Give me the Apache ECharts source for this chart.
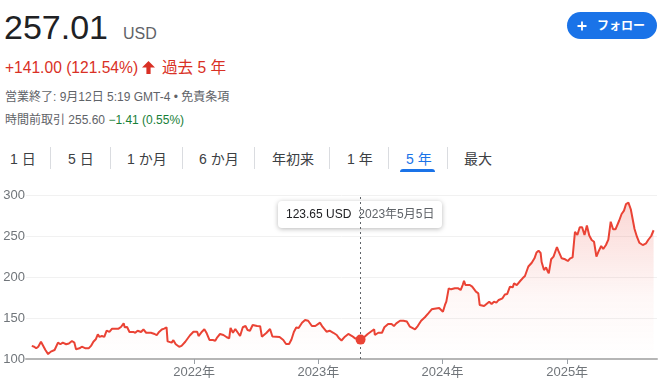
<!DOCTYPE html>
<html><head><meta charset="utf-8">
<script src="https://cdn.jsdelivr.net/npm/echarts@6/dist/echarts.min.js"></script>
<style>
body{margin:0;width:669px;height:391px;overflow:hidden;background:#fff;font-family:"Liberation Sans",Arial,"Noto Sans CJK JP",sans-serif;position:relative}
.a{position:absolute;white-space:nowrap;line-height:1}
.tab{position:absolute;top:152px;font-size:14px;line-height:1;color:#3c4043;white-space:nowrap}
.sep{position:absolute;top:147px;width:1px;height:22px;background:#dadce0}
#chart{position:absolute;left:0;top:180px;width:669px;height:211px}
</style></head><body>
<div class="a" style="left:4px;top:10px;font-size:34px;color:#202124">257.01</div>
<div class="a" style="left:123px;top:25.5px;font-size:16px;color:#5f6368">USD</div>
<div class="a" style="left:5px;top:60px;font-size:15.6px;color:#d93025">+141.00 (121.54%)</div>
<svg style="position:absolute;left:141px;top:60px" width="15" height="15" viewBox="0 0 15 15"><path d="M7.5 1 L14 7.6 L9.6 7.6 L9.6 14 L5.4 14 L5.4 7.6 L1 7.6 Z" fill="#d93025"/></svg>
<div class="a" style="left:162px;top:60px;font-size:15.6px;color:#d93025">過去 5 年</div>
<div class="a" style="left:5px;top:91px;font-size:12px;color:#5f6368">営業終了: 9月12日 5:19 GMT-4 • 免責条項</div>
<div class="a" style="left:5px;top:113.5px;font-size:12px;color:#5f6368">時間前取引 255.60 <span style="color:#188038">−1.41 (0.55%)</span></div>
<div style="position:absolute;left:567px;top:12px;width:90px;height:27px;border-radius:14px;background:#1a73e8"></div>
<svg style="position:absolute;left:577px;top:21px" width="10" height="10" viewBox="0 0 10 10"><path d="M5 0.5 V9.5 M0.5 5 H9.5" stroke="#fff" stroke-width="1.8"/></svg>
<div class="a" style="left:597px;top:20px;font-size:12px;font-weight:bold;color:#fff">フォロー</div>

<div class="tab" style="left:10px">1 日</div>
<div class="sep" style="left:50px"></div>
<div class="tab" style="left:68px">5 日</div>
<div class="sep" style="left:110px"></div>
<div class="tab" style="left:127px">1 か月</div>
<div class="sep" style="left:182px"></div>
<div class="tab" style="left:199px">6 か月</div>
<div class="sep" style="left:254px"></div>
<div class="tab" style="left:272px">年初来</div>
<div class="sep" style="left:329px"></div>
<div class="tab" style="left:347px">1 年</div>
<div class="sep" style="left:388px"></div>
<div class="tab" style="left:406px;color:#1a73e8">5 年</div>
<div style="position:absolute;left:400px;top:169px;width:35px;height:3px;background:#1a73e8;border-radius:3px 3px 0 0"></div>
<div class="sep" style="left:447px"></div>
<div class="tab" style="left:464px">最大</div>

<div id="chart"></div>
<script>
const dates = [
"2020-09-11","2020-09-18","2020-09-24","2020-09-30","2020-10-08","2020-10-13","2020-10-21","2020-10-29","2020-11-06","2020-11-17","2020-11-20","2020-11-27","2020-12-04","2020-12-11","2020-12-21","2020-12-29",
"2021-01-07","2021-01-14","2021-01-19","2021-01-29","2021-02-05","2021-02-16","2021-02-25","2021-03-04","2021-03-11","2021-03-18","2021-03-24","2021-03-29","2021-04-05","2021-04-12","2021-04-19","2021-04-27","2021-05-05","2021-05-14","2021-05-24","2021-05-31","2021-06-08","2021-06-11","2021-06-18","2021-06-25","2021-07-06","2021-07-12","2021-07-19","2021-07-29","2021-08-05","2021-08-13","2021-08-27","2021-09-07","2021-09-13","2021-09-20","2021-09-28","2021-10-05","2021-10-12","2021-10-15","2021-10-27","2021-11-01","2021-11-08","2021-11-18","2021-11-25","2021-12-06","2021-12-14","2021-12-20","2021-12-30",
"2022-01-10","2022-01-14","2022-01-24","2022-01-31","2022-02-07","2022-02-15","2022-02-25","2022-03-04","2022-03-10","2022-03-18","2022-03-28","2022-04-07","2022-04-14","2022-04-18","2022-04-25","2022-05-02","2022-05-09","2022-05-16","2022-05-24","2022-06-01","2022-06-07","2022-06-14","2022-06-22","2022-07-05","2022-07-14","2022-07-19","2022-08-01","2022-08-12","2022-08-19","2022-08-30","2022-09-09","2022-09-20","2022-09-28","2022-10-07","2022-10-14","2022-10-21","2022-10-28","2022-11-04","2022-11-14","2022-11-23","2022-12-02","2022-12-13","2022-12-23",
"2023-01-06","2023-01-13","2023-01-25","2023-02-03","2023-02-14","2023-02-24","2023-03-03","2023-03-10","2023-03-20","2023-03-30","2023-04-10","2023-04-19","2023-05-05","2023-05-12","2023-05-26","2023-06-08","2023-06-14","2023-06-16","2023-06-26","2023-07-07","2023-07-14","2023-07-25","2023-08-04","2023-08-11","2023-08-18","2023-08-29","2023-09-08","2023-09-18","2023-09-27","2023-10-02","2023-10-12","2023-10-20","2023-10-30","2023-11-10","2023-11-20","2023-11-30","2023-12-08","2023-12-22",
"2024-01-02","2024-01-08","2024-01-12","2024-01-19","2024-01-26","2024-02-06","2024-02-16","2024-02-23","2024-02-29","2024-03-04","2024-03-08","2024-03-21","2024-03-28","2024-04-08","2024-04-15","2024-04-19","2024-05-02","2024-05-09","2024-05-17","2024-05-24","2024-05-31","2024-06-07","2024-06-14","2024-06-25","2024-07-02","2024-07-09","2024-07-17","2024-07-25","2024-07-29","2024-08-06","2024-08-16","2024-08-23","2024-08-30","2024-09-04","2024-09-09","2024-09-19","2024-09-27","2024-10-03","2024-10-09","2024-10-15","2024-10-18","2024-10-25","2024-10-31","2024-11-04","2024-11-08","2024-11-15","2024-11-22","2024-12-02","2024-12-06","2024-12-16","2024-12-26",
"2025-01-03","2025-01-10","2025-01-17","2025-01-24","2025-01-31","2025-02-07","2025-02-14","2025-02-21","2025-02-28","2025-03-07","2025-03-14","2025-03-21","2025-03-28","2025-04-03","2025-04-11","2025-04-17","2025-04-25","2025-05-02","2025-05-09","2025-05-16","2025-05-23","2025-06-03","2025-06-10","2025-06-17","2025-06-23","2025-06-30","2025-07-07","2025-07-11","2025-07-18","2025-07-25","2025-08-01","2025-08-11","2025-08-21","2025-08-27","2025-09-05","2025-09-12"
];
const prices = [
116.0,115.0,113.0,115.0,121.0,119.0,111.0,106.0,109.0,111.0,113.0,120.0,118.0,120.0,118.0,119.0,
122.0,120.0,112.0,113.0,115.0,113.0,113.0,116.0,121.0,124.0,130.0,127.0,128.0,127.0,134.5,133.0,137.0,137.0,137.0,139.0,143.5,138.7,139.0,133.0,133.0,132.0,134.5,133.0,136.0,132.0,132.0,130.5,129.0,133.0,136.0,137.0,138.5,121.5,120.0,123.0,118.0,115.0,116.0,121.0,125.6,129.0,133.3,
133.3,128.0,133.3,136.2,131.3,123.2,123.2,122.3,126.5,130.5,129.3,126.5,125.2,138.0,132.0,136.6,132.3,128.0,138.7,140.2,135.4,134.5,141.5,140.2,139.9,127.2,131.7,136.6,127.4,127.2,126.8,123.2,118.3,118.3,123.8,132.9,138.4,137.8,144.3,147.6,146.7,140.2,140.2,
144.3,139.4,133.3,134.5,132.0,129.3,125.2,122.6,127.2,130.5,128.0,125.2,123.65,125.2,130.5,134.5,136.2,129.3,132.0,132.0,138.7,142.7,142.7,140.2,143.5,146.7,146.7,145.7,139.4,141.5,136.2,140.2,146.7,150.9,155.7,160.6,161.3,162.2,
157.7,165.9,169.9,186.2,185.0,186.2,186.2,184.1,190.2,195.5,190.2,190.2,188.2,182.1,180.1,165.9,164.6,167.1,169.9,167.1,169.9,168.7,172.0,174.0,178.7,179.3,188.2,187.4,192.3,190.2,195.1,198.4,201.2,201.2,212.8,217.4,222.8,229.9,232.1,229.3,218.3,208.5,211.8,207.7,204.5,221.6,224.8,236.6,232.1,222.8,221.6,
219.5,222.8,224.0,255.2,251.2,260.6,260.6,251.2,262.8,250.6,245.1,243.0,224.8,230.9,237.8,234.1,239.0,245.7,267.4,258.2,258.2,268.9,276.8,280.9,289.0,290.6,282.6,285.0,258.5,249.1,241.8,239.0,241.1,245.1,250.0,257.01
];
const yTicks = [100, 150, 200, 250, 300];
const yearTicks = ["2022-01-01","2023-01-01","2024-01-01","2025-01-01"];
const axisRange = ["2020-08-25","2025-09-22"];
const hoverDate = "2023-05-05";
const hoverPrice = 123.65;
const hoverLabel = "123.65 USD";
const hoverDateLabel = "2023年5月5日";

function ts(s){const p=s.split('-').map(Number);return new Date(p[0],p[1]-1,p[2]).getTime();}
const FONT = '"Liberation Sans", Arial, "Noto Sans CJK JP", sans-serif';
const chart = echarts.init(document.getElementById('chart'), null, {renderer:'canvas'});
const yearTs = yearTicks.map(ts);
chart.setOption({
  animation:false,
  grid:{left:26,right:12,top:15,bottom:32},
  xAxis:{
    type:'value', min:ts(axisRange[0]), max:ts(axisRange[1]),
    axisLine:{lineStyle:{color:'#b6b6b6',width:2}},
    axisTick:{show:true,customValues:yearTs,length:5,lineStyle:{color:'#9aa0a6',width:1}},
    axisLabel:{customValues:yearTs,formatter:v=>new Date(v).getFullYear()+'年',color:'#70757a',fontSize:13,fontFamily:FONT,margin:7},
    splitLine:{show:false}
  },
  yAxis:{
    type:'value', min:yTicks[0], max:yTicks[yTicks.length-1], interval:50,
    axisLine:{show:false}, axisTick:{show:false},
    axisLabel:{color:'#70757a',fontSize:13,fontFamily:FONT,margin:1},
    splitLine:{lineStyle:{color:'#f1f1f1',width:1}}
  },
  series:[{
    type:'line', showSymbol:false, smooth:false,
    data:dates.map((d,i)=>[ts(d),prices[i]]),
    lineStyle:{color:'#ea4335',width:2},
    itemStyle:{color:'#ea4335'},
    areaStyle:{color:{type:'linear',x:0,y:0,x2:0,y2:1,colorStops:[
      {offset:0,color:'rgba(234,67,53,0.30)'},
      {offset:0.6,color:'rgba(234,67,53,0.06)'},
      {offset:1,color:'rgba(234,67,53,0)'}]}},
    markLine:{silent:true,symbol:['none','none'],label:{show:false},
      lineStyle:{color:'#5f6368',type:[2,3],width:1},
      data:[{xAxis:ts(hoverDate)}]},
    markPoint:{symbol:'circle',symbolSize:10,itemStyle:{color:'#ea4335'},label:{show:false},
      data:[{coord:[ts(hoverDate),hoverPrice]}]}
  }]
});
const px = chart.convertToPixel({gridIndex:0},[ts(hoverDate),yTicks[yTicks.length-1]]);
chart.setOption({graphic:[{
  type:'group', x:Math.round(px[0])-83, y:21, z:100,
  children:[
    {type:'rect',shape:{x:0,y:0,width:164,height:27,r:4},
     style:{fill:'#fff',shadowBlur:5,shadowColor:'rgba(0,0,0,0.28)',shadowOffsetY:1}},
    {type:'text',x:8,y:14,
     style:{text:'{a|'+hoverLabel+'}{b|'+hoverDateLabel+'}',verticalAlign:'middle',
       rich:{a:{fill:'#202124',color:'#202124',fontSize:12,fontFamily:FONT},
             b:{fill:'#5f6368',color:'#5f6368',fontSize:12,fontFamily:FONT,padding:[0,0,0,7]}}}}
  ]
}]});
</script>
</body></html>
